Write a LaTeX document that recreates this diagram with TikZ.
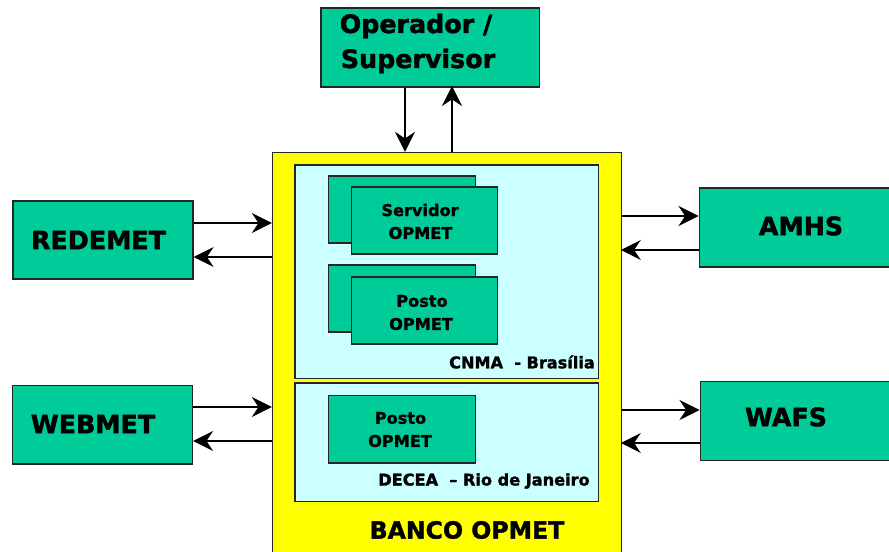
\documentclass[tikz,border=0pt]{standalone}
\usepackage{fontspec}
\setmainfont[BoldFeatures={FakeBold=1.6}]{DejaVu Sans}
\usetikzlibrary{arrows.meta}
\tikzset{
  x=0.75pt,y=-0.75pt,
  boxbase/.style={draw=black!85,line width=1.2pt,inner sep=0pt,anchor=north west},
  greenbox/.style={boxbase,fill=boxgreen},
  lbl/.style={inner sep=0pt,anchor=center,align=center,text=black},
  biglbl/.style={lbl,font=\fontsize{19}{27}\selectfont\bfseries},
  bandlbl/.style={lbl,font=\fontsize{17.7}{20}\selectfont\bfseries},
  smalllbl/.style={lbl,font=\fontsize{12.1}{17}\selectfont\bfseries},
  arr/.style={draw=black,line width=1pt,-{Stealth[length=15pt,width=15pt,inset=5pt]}},
  reach/.style={shorten >=-1.2pt},
}
\definecolor{boxgreen}{RGB}{0,204,153}
\definecolor{panelcyan}{RGB}{204,255,255}
\definecolor{bankyellow}{RGB}{255,255,0}
\newcommand{\rbox}[6]{\node[#1,minimum width=#4*0.75pt,minimum height=#5*0.75pt] (#6) at (#2,#3) {};}
\begin{document}
\begin{tikzpicture}
\useasboundingbox (0,0) rectangle (889,552);
\fill[white] (0,0) rectangle (889,552);
\rbox{boxbase,fill=bankyellow}{271.8}{151.8}{349}{405}{banco}
\rbox{boxbase,fill=panelcyan}{294}{164}{303.5}{213.5}{cnma}
\rbox{boxbase,fill=panelcyan}{294}{382}{303.5}{118.5}{decea}
\rbox{greenbox}{320}{7.5}{218.5}{78.5}{oper}
\rbox{greenbox}{12}{200}{180}{78.5}{redemet}
\rbox{greenbox}{11.5}{384.5}{180}{78.5}{webmet}
\rbox{greenbox}{698.5}{187.5}{195}{79}{amhs}
\rbox{greenbox}{699.5}{380.5}{195}{79}{wafs}
\rbox{greenbox}{327.5}{175.5}{147}{67}{servback}
\rbox{greenbox}{350.5}{186.5}{146}{67}{servfront}
\rbox{greenbox}{327.5}{264.5}{147}{67}{postback}
\rbox{greenbox}{350.5}{276.5}{146}{67}{postfront}
\rbox{greenbox}{327.5}{394.5}{147}{67.5}{postorio}
\node[biglbl] (toper) at (416,26) {Operador /};
\node[biglbl] (tsup) at (418,61) {Supervisor};
\node[biglbl] (tred) at (98.5,240) {REDEMET};
\node[biglbl] (tweb) at (93,424) {WEBMET};
\node[biglbl] (tamhs) at (801,226) {AMHS};
\node[biglbl] (twafs) at (786,417) {WAFS};
\node[smalllbl] at (420,210) (ts1) {Servidor};
\node[smalllbl] at (420.5,233) (ts2) {OPMET};
\node[smalllbl] at (422,301) (tp1) {Posto};
\node[smalllbl] at (421,324) (tp2) {OPMET};
\node[smalllbl] at (400.5,418) (tr1) {Posto};
\node[smalllbl] at (400,441) (tr2) {OPMET};
\node[smalllbl] at (522,362) (tcnma) {CNMA\ \ - Brasília};
\node[smalllbl] at (484,481) (tdecea) {DECEA\ \ – Rio de Janeiro};
\node[bandlbl] at (467,530) (tbanco) {BANCO OPMET};
\draw[arr] (oper.south -| 405,0) -- (banco.north -| 405,0);
\draw[arr,reach] (banco.north -| 452,0) -- (oper.south -| 452,0);
\draw[arr] (redemet.east |- 0,223) -- (banco.west |- 0,223);
\draw[arr] (banco.west |- 0,257) -- (redemet.east |- 0,257);
\draw[arr] (webmet.east |- 0,407) -- (banco.west |- 0,407);
\draw[arr] (banco.west |- 0,441) -- (webmet.east |- 0,441);
\draw[arr] (banco.east |- 0,216) -- (amhs.west |- 0,216);
\draw[arr,reach] (amhs.west |- 0,250) -- (banco.east |- 0,250);
\draw[arr] (banco.east |- 0,410) -- (wafs.west |- 0,410);
\draw[arr,reach] (wafs.west |- 0,443) -- (banco.east |- 0,443);
\end{tikzpicture}
\end{document}
